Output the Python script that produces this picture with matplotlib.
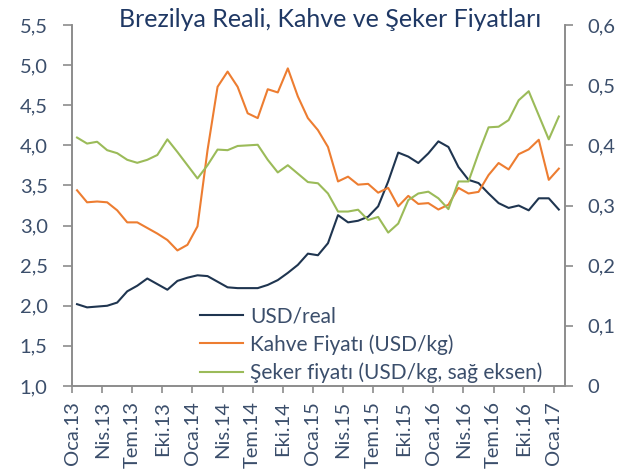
import numpy as np
import matplotlib.pyplot as plt
from matplotlib.ticker import FuncFormatter

plt.rcParams['font.family'] = ['Lato', 'DejaVu Sans']

# monthly data, Oca.13 .. Oca.17 (plotted mid-month)
usd_real = [2.02, 1.98, 1.99, 2.00, 2.04, 2.18, 2.25, 2.34, 2.27, 2.20,
            2.31, 2.35, 2.38, 2.37, 2.30, 2.23, 2.22, 2.22, 2.22, 2.26,
            2.32, 2.41, 2.51, 2.65, 2.63, 2.78, 3.13, 3.04, 3.06, 3.11,
            3.24, 3.55, 3.91, 3.86, 3.78, 3.90, 4.05, 3.98, 3.73, 3.57,
            3.53, 3.40, 3.28, 3.22, 3.25, 3.19, 3.34, 3.34, 3.20]
kahve = [3.44, 3.29, 3.30, 3.29, 3.19, 3.04, 3.04, 2.97, 2.90, 2.82,
         2.69, 2.76, 2.99, 3.94, 4.73, 4.92, 4.73, 4.40, 4.34, 4.70,
         4.66, 4.96, 4.61, 4.34, 4.19, 3.98, 3.55, 3.61, 3.51, 3.52,
         3.41, 3.47, 3.24, 3.37, 3.27, 3.28, 3.20, 3.26, 3.47, 3.40,
         3.42, 3.63, 3.78, 3.70, 3.89, 3.95, 4.07, 3.57, 3.71]
seker = [0.413, 0.403, 0.406, 0.392, 0.387, 0.376, 0.371, 0.376, 0.384, 0.410,
         0.389, 0.367, 0.345, 0.367, 0.393, 0.392, 0.399, 0.400, 0.401, 0.376,
         0.355, 0.367, 0.353, 0.339, 0.337, 0.320, 0.290, 0.290, 0.293, 0.276,
         0.281, 0.255, 0.270, 0.309, 0.320, 0.323, 0.312, 0.294, 0.340, 0.340,
         0.387, 0.430, 0.431, 0.442, 0.475, 0.490, 0.450, 0.410, 0.448]

tick_labels = ['Oca.13', 'Nis.13', 'Tem.13', 'Eki.13', 'Oca.14', 'Nis.14', 'Tem.14',
               'Eki.14', 'Oca.15', 'Nis.15', 'Tem.15', 'Eki.15', 'Oca.16', 'Nis.16',
               'Tem.16', 'Eki.16', 'Oca.17']

txt = '#3B4E6B'
spine = '#8C8C8C'

months = np.arange(len(usd_real)) + 0.5

fig = plt.figure(figsize=(6.29, 4.73), dpi=100)
ax = fig.add_axes([0.1145, 0.184, 0.7835, 0.763])
ax2 = ax.twinx()

l1, = ax.plot(months, usd_real, c='#1F3550', lw=1.5, label='USD/real')
l2, = ax.plot(months, kahve, c='#ED7D31', lw=1.5, label='Kahve Fiyatı (USD/kg)')
l3, = ax2.plot(months, seker, c='#9BBB59', lw=1.5, label='Şeker fiyatı (USD/kg, sağ eksen)')

ax.set_xlim(0, 49.1)
ax.set_ylim(1.0, 5.5)
ax2.set_ylim(0, 0.6)
ax.set_yticks(np.arange(1.0, 5.51, 0.5))
ax2.set_yticks(np.arange(0, 0.61, 0.1))
ax.yaxis.set_major_formatter(FuncFormatter(lambda v, p: f'{v:.1f}'.replace('.', ',')))
ax2.yaxis.set_major_formatter(FuncFormatter(lambda v, p: '0' if abs(v) < 1e-9 else f'{v:.1f}'.replace('.', ',')))
ax.set_xticks(np.arange(0, 49, 3))
ax.set_xticklabels(tick_labels, rotation=90)

for a in (ax, ax2):
    a.spines['top'].set_visible(False)
    for s in ('left', 'right', 'bottom'):
        a.spines[s].set_color(spine)
        a.spines[s].set_linewidth(1.2)
    a.tick_params(colors=spine, labelcolor=txt, labelsize=14.5, length=6, width=1.2)
ax.tick_params(axis='x', pad=6, length=5)
ax.tick_params(axis='y', pad=11, length=6.5)
ax2.tick_params(axis='y', pad=10)

fig.text(0.525, 0.942, 'Brezilya Reali, Kahve ve Şeker Fiyatları', ha='center', va='baseline',
         fontsize=18, color='#1F3864')

ax.legend(handles=[l1, l2, l3], loc='upper left', bbox_to_anchor=(0.243, 0.244),
          frameon=False, fontsize=15, labelcolor=txt, handlelength=2.07,
          handletextpad=0.34, labelspacing=0.38, borderaxespad=0)

fig.savefig('out.png', dpi=100)
